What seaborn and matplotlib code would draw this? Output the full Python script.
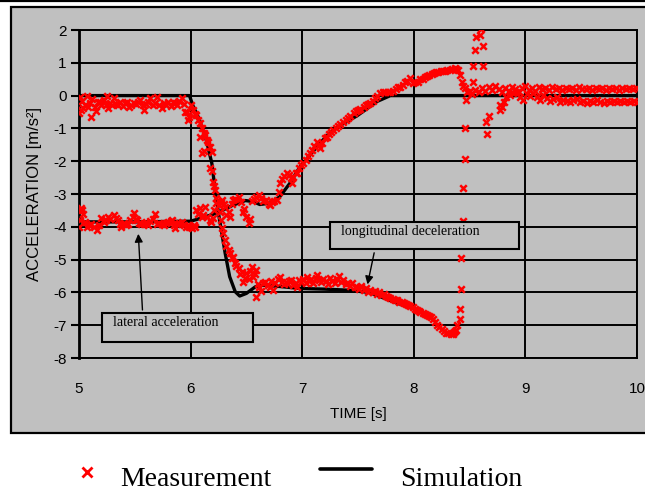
import pandas as pd
import matplotlib
matplotlib.use('Agg')
import matplotlib.pyplot as plt
import seaborn as sns
from matplotlib.patches import Rectangle
from matplotlib.lines import Line2D

# measured longitudinal acceleration (time [s], acc [m/s2])
lon_time = [5.00, 5.01, 5.02, 5.03, 5.04, 5.05, 5.07, 5.08, 5.10, 5.11, 5.12, 5.14, 5.15, 5.17, 5.19,
            5.20, 5.22, 5.24, 5.25, 5.26, 5.28, 5.30, 5.31, 5.33, 5.35, 5.37, 5.39, 5.41, 5.43, 5.45,
            5.47, 5.49, 5.51, 5.53, 5.55, 5.57, 5.58, 5.60, 5.62, 5.64, 5.66, 5.68, 5.70, 5.72, 5.74,
            5.76, 5.78, 5.80, 5.82, 5.84, 5.86, 5.88, 5.90, 5.92, 5.94, 5.95, 5.97, 5.98, 5.99, 6.00,
            6.02, 6.04, 6.05, 6.07, 6.08, 6.10, 6.08, 6.12, 6.13, 6.15, 6.16, 6.17, 6.10, 6.12, 6.19,
            6.17, 6.19, 6.20, 6.21, 6.22, 6.23, 6.25, 6.26, 6.27, 6.28, 6.29, 6.31, 6.32, 6.34, 6.35,
            6.37, 6.38, 6.40, 6.41, 6.43, 6.44, 6.46, 6.47, 6.49, 6.50, 6.52, 6.53, 6.55, 6.56, 6.58,
            6.59, 6.60, 6.61, 6.59, 6.63, 6.65, 6.67, 6.69, 6.71, 6.72, 6.74, 6.76, 6.78, 6.80, 6.82,
            6.84, 6.86, 6.88, 6.90, 6.92, 6.94, 6.95, 6.97, 6.99, 7.01, 7.03, 7.04, 7.06, 7.08, 7.10,
            7.12, 7.13, 7.15, 7.17, 7.19, 7.21, 7.23, 7.25, 7.27, 7.29, 7.31, 7.33, 7.35, 7.37, 7.39,
            7.41, 7.43, 7.45, 7.47, 7.49, 7.51, 7.53, 7.55, 7.57, 7.59, 7.61, 7.63, 7.65, 7.67, 7.69,
            7.71, 7.73, 7.75, 7.77, 7.79, 7.81, 7.83, 7.85, 7.87, 7.89, 7.91, 7.93, 7.95, 7.97, 7.99,
            8.01, 8.03, 8.05, 8.06, 8.08, 8.10, 8.12, 8.14, 8.15, 8.17, 8.19, 8.21, 8.23, 8.25, 8.27,
            8.29, 8.31, 8.33, 8.35, 8.36, 8.37, 8.38, 8.39, 8.41, 8.41, 8.42, 8.42, 8.44, 8.44, 8.46,
            8.46, 8.47, 8.53, 8.53, 8.55, 8.56, 8.59, 8.60, 8.62, 8.62, 8.65, 8.66, 8.67, 8.77, 8.77,
            8.79, 8.81, 8.83, 8.86, 8.89, 8.92, 8.95, 8.98, 9.01, 9.04, 9.07, 9.10, 9.13, 9.16, 9.19,
            9.22, 9.25, 9.28, 9.31, 9.34, 9.37, 9.40, 9.43, 9.46, 9.49, 9.52, 9.55, 9.58, 9.61, 9.64,
            9.67, 9.70, 9.73, 9.76, 9.79, 9.82, 9.85, 9.88, 9.91, 9.94, 9.97, 10.00]
lon_acc = [-0.54, -0.03, -0.45, -0.15, -0.39, -0.28, 0.00, -0.35, -0.24, -0.64, -0.10, -0.34, -0.48, -0.20, -0.19,
           -0.30, -0.12, -0.28, 0.00, -0.39, -0.22, -0.30, -0.08, -0.25, -0.29, -0.18, -0.33, -0.24, -0.20, -0.35,
           -0.29, -0.22, -0.27, -0.20, -0.13, -0.30, -0.44, -0.25, -0.18, -0.08, -0.28, -0.22, -0.03, -0.30, -0.39,
           -0.22, -0.28, -0.19, -0.32, -0.18, -0.24, -0.30, -0.15, -0.08, -0.25, -0.49, -0.49, -0.74, -0.65, -0.30,
           -0.44, -0.55, -0.59, -0.75, -0.85, -1.00, -1.25, -1.15, -1.20, -1.35, -1.40, -1.56, -1.76, -1.70, -1.71,
           -2.22, -2.30, -2.62, -2.75, -2.88, -3.13, -3.34, -3.55, -3.80, -4.05, -4.20, -4.40, -4.60, -4.72, -4.81,
           -4.95, -4.91, -5.11, -5.20, -5.27, -5.45, -5.37, -5.67, -5.55, -5.42, -5.60, -5.35, -5.22, -5.52, -5.45,
           -5.32, -5.75, -5.83, -6.13, -5.95, -5.70, -5.67, -5.78, -5.83, -5.65, -5.93, -5.72, -5.60, -5.52, -5.68,
           -5.75, -5.72, -5.65, -5.62, -5.77, -5.70, -5.83, -5.62, -5.68, -5.60, -5.72, -5.52, -5.65, -5.58, -5.70,
           -5.55, -5.47, -5.62, -5.68, -5.58, -5.65, -5.75, -5.57, -5.65, -5.72, -5.60, -5.50, -5.68, -5.62, -5.75,
           -5.70, -5.80, -5.72, -5.85, -5.83, -5.90, -5.82, -5.92, -5.88, -5.98, -5.93, -6.00, -5.95, -6.05, -6.00,
           -6.08, -6.05, -6.12, -6.15, -6.18, -6.20, -6.22, -6.23, -6.28, -6.30, -6.33, -6.36, -6.38, -6.40, -6.45,
           -6.50, -6.53, -6.57, -6.60, -6.63, -6.66, -6.70, -6.72, -6.75, -6.82, -6.90, -6.98, -7.05, -7.12, -7.18,
           -7.23, -7.25, -7.27, -7.27, -7.22, -7.18, -7.15, -6.99, -6.82, -6.52, -5.91, -4.94, -3.82, -2.81, -1.94,
           -0.98, -0.13, 0.42, 0.91, 1.39, 1.78, 1.85, 2.02, 1.52, 0.91, -0.80, -1.18, -0.61, -0.30, -0.44,
           -0.35, -0.19, -0.05, 0.02, 0.08, 0.10, -0.05, -0.13, 0.05, -0.02, 0.08, -0.05, -0.12, 0.02, -0.08,
           -0.15, -0.10, -0.05, -0.18, -0.12, -0.15, -0.20, -0.14, -0.10, -0.18, -0.15, -0.22, -0.16, -0.20, -0.13,
           -0.18, -0.22, -0.16, -0.19, -0.15, -0.21, -0.17, -0.20, -0.16, -0.19, -0.15, -0.18]

# measured lateral acceleration
lat_time = [5.00, 5.01, 5.02, 5.03, 5.04, 5.05, 5.07, 5.09, 5.11, 5.13, 5.16, 5.18, 5.20, 5.22, 5.24,
            5.26, 5.28, 5.31, 5.33, 5.35, 5.37, 5.38, 5.40, 5.42, 5.44, 5.46, 5.48, 5.49, 5.51, 5.52,
            5.54, 5.56, 5.58, 5.60, 5.62, 5.64, 5.66, 5.68, 5.70, 5.72, 5.74, 5.76, 5.78, 5.80, 5.82,
            5.83, 5.85, 5.86, 5.88, 5.90, 5.92, 5.94, 5.96, 5.98, 5.99, 6.01, 6.03, 6.04, 6.05, 6.07,
            6.08, 6.10, 6.11, 6.13, 6.15, 6.17, 6.18, 6.20, 6.21, 6.23, 6.25, 6.27, 6.28, 6.30, 6.31,
            6.32, 6.34, 6.35, 6.37, 6.38, 6.40, 6.43, 6.45, 6.47, 6.48, 6.50, 6.52, 6.53, 6.55, 6.57,
            6.59, 6.61, 6.63, 6.65, 6.68, 6.70, 6.71, 6.73, 6.75, 6.77, 6.79, 6.80, 6.82, 6.84, 6.86,
            6.88, 6.90, 6.91, 6.92, 6.94, 6.95, 6.97, 6.99, 7.01, 7.03, 7.05, 7.07, 7.09, 7.11, 7.13,
            7.15, 7.16, 7.18, 7.20, 7.22, 7.24, 7.26, 7.28, 7.30, 7.32, 7.34, 7.37, 7.39, 7.41, 7.43,
            7.46, 7.48, 7.50, 7.52, 7.55, 7.57, 7.59, 7.61, 7.63, 7.65, 7.67, 7.70, 7.72, 7.74, 7.77,
            7.79, 7.81, 7.84, 7.86, 7.88, 7.90, 7.92, 7.94, 7.97, 7.99, 8.01, 8.04, 8.06, 8.08, 8.10,
            8.12, 8.14, 8.16, 8.18, 8.20, 8.22, 8.24, 8.26, 8.28, 8.30, 8.32, 8.34, 8.37, 8.38, 8.40,
            8.41, 8.43, 8.44, 8.46, 8.48, 8.50, 8.52, 8.55, 8.58, 8.61, 8.64, 8.67, 8.70, 8.73, 8.76,
            8.79, 8.82, 8.85, 8.88, 8.91, 8.94, 8.97, 9.00, 9.03, 9.06, 9.09, 9.12, 9.15, 9.18, 9.21,
            9.24, 9.27, 9.30, 9.33, 9.36, 9.39, 9.42, 9.45, 9.48, 9.51, 9.54, 9.57, 9.60, 9.63, 9.66,
            9.69, 9.72, 9.75, 9.78, 9.81, 9.84, 9.87, 9.90, 9.93, 9.96, 9.99]
lat_acc = [-4.00, -3.79, -3.44, -3.50, -3.60, -3.85, -4.00, -3.95, -3.90, -4.02, -4.10, -3.95, -3.74, -3.85, -3.80,
           -3.69, -3.75, -3.64, -3.72, -3.80, -3.92, -4.00, -3.88, -3.95, -3.90, -3.80, -3.70, -3.59, -3.75, -3.79,
           -3.88, -3.92, -3.90, -3.85, -3.95, -3.82, -3.75, -3.62, -3.90, -3.88, -3.92, -3.95, -3.88, -3.85, -3.82,
           -3.79, -3.95, -4.05, -3.92, -3.89, -3.84, -3.95, -4.02, -3.95, -4.00, -4.05, -3.95, -4.00, -3.49, -3.60,
           -3.44, -3.70, -3.64, -3.39, -3.70, -3.79, -3.85, -3.74, -3.50, -3.28, -3.35, -3.25, -3.18, -3.30, -3.39,
           -3.64, -3.55, -3.69, -3.30, -3.18, -3.15, -3.08, -3.25, -3.54, -3.45, -3.69, -3.89, -3.75, -3.20, -3.15,
           -3.10, -3.03, -3.12, -3.22, -3.18, -3.30, -3.34, -3.25, -3.20, -3.18, -2.95, -2.67, -2.55, -2.45, -2.37,
           -2.42, -2.50, -2.67, -2.47, -2.35, -2.37, -2.22, -2.12, -2.06, -1.95, -1.85, -1.75, -1.65, -1.55, -1.40,
           -1.50, -1.61, -1.45, -1.30, -1.25, -1.18, -1.10, -1.05, -0.98, -0.92, -0.88, -0.80, -0.75, -0.68, -0.62,
           -0.54, -0.48, -0.45, -0.40, -0.34, -0.30, -0.26, -0.24, -0.15, -0.08, 0.00, 0.07, 0.10, 0.12, 0.10,
           0.12, 0.15, 0.20, 0.25, 0.27, 0.33, 0.40, 0.46, 0.53, 0.37, 0.40, 0.42, 0.50, 0.52, 0.56,
           0.60, 0.63, 0.66, 0.70, 0.71, 0.73, 0.74, 0.75, 0.76, 0.78, 0.79, 0.80, 0.85, 0.82, 0.78,
           0.62, 0.42, 0.30, 0.22, 0.10, 0.15, 0.05, 0.18, 0.12, 0.22, 0.15, 0.25, 0.18, 0.30, 0.20,
           0.10, 0.22, 0.15, 0.25, 0.20, 0.12, 0.22, 0.28, 0.18, 0.22, 0.15, 0.25, 0.20, 0.23, 0.18,
           0.26, 0.20, 0.22, 0.17, 0.24, 0.20, 0.22, 0.18, 0.25, 0.21, 0.19, 0.23, 0.18, 0.24, 0.20,
           0.22, 0.17, 0.23, 0.20, 0.24, 0.18, 0.22, 0.20, 0.24, 0.19, 0.22]

# simulation curves
sim_lon_time = [5.00, 5.99, 6.02, 6.08, 6.14, 6.19, 6.22, 6.25, 6.28, 6.31, 6.35, 6.40, 6.44, 6.50,
                6.58, 6.65, 6.80, 6.98, 7.20, 7.40, 7.60, 7.85, 8.00]
sim_lon_acc = [0.00, 0.00, -0.30, -0.74, -1.35, -2.06, -2.88, -3.59, -4.20, -4.81, -5.52, -5.98, -6.11, -6.03,
               -5.83, -5.78, -5.82, -5.88, -5.90, -5.93, -6.00, -6.33, -6.50]
sim_lat_time = [5.00, 5.50, 6.00, 6.08, 6.20, 6.29, 6.38, 6.49, 6.56, 6.62, 6.71, 6.80, 6.89, 6.98,
                7.07, 7.16, 7.25, 7.37, 7.49, 7.58, 7.67, 7.79, 8.00, 10.00]
sim_lat_acc = [-3.85, -3.85, -3.83, -3.75, -3.62, -3.49, -3.34, -3.20, -3.23, -3.32, -3.28, -3.08, -2.67, -2.17,
               -1.81, -1.45, -1.12, -0.85, -0.62, -0.40, -0.18, 0.00, 0.00, 0.00]

meas = pd.DataFrame({'time': lon_time + lat_time, 'acc': lon_acc + lat_acc,
                     'series': ['lon'] * len(lon_time) + ['lat'] * len(lat_time)})
sim = pd.DataFrame({'time': sim_lon_time + sim_lat_time, 'acc': sim_lon_acc + sim_lat_acc,
                    'series': ['lon'] * len(sim_lon_time) + ['lat'] * len(sim_lat_time)})

gray = '#c0c0c0'
sns.set_theme(style='whitegrid', rc={'axes.facecolor': gray, 'grid.color': 'black',
                                     'grid.linewidth': 1.4, 'axes.edgecolor': 'black',
                                     'text.color': 'black', 'axes.labelcolor': 'black',
                                     'xtick.color': 'black', 'ytick.color': 'black'})
plt.rcParams['font.family'] = ['Liberation Sans', 'DejaVu Sans']
plt.rcParams['axes.unicode_minus'] = False
serif = ['Liberation Serif', 'DejaVu Serif']

fig = plt.figure(figsize=(6.45, 4.91), dpi=100)
W, H = 645, 491
# grey chart frame + top rule
fig.patches.append(Rectangle((11 / W, 1 - 433 / H), 640 / W, 426 / H, transform=fig.transFigure,
                             facecolor=gray, edgecolor='black', lw=1.6, zorder=-10))
fig.add_artist(Line2D([0, 1], [1 - 1 / H] * 2, color='black', lw=1.6))

ax = fig.add_axes([79 / W, 1 - 358 / H, 558 / W, 328 / H])

sns.lineplot(data=sim, x='time', y='acc', units='series', estimator=None, sort=False,
             color='black', lw=2.4, ax=ax, zorder=2)
sns.scatterplot(data=meas, x='time', y='acc', marker='x', color='#ff0000', s=22,
                linewidth=1.8, ax=ax, zorder=3, legend=False)

ax.set_xlim(5, 10)
ax.set_ylim(-8, 2)
ax.set_xticks(range(5, 11))
ax.set_yticks(range(-8, 3))
for s in ax.spines.values():
    s.set_color('black')
    s.set_linewidth(1.4)
ax.spines['left'].set_linewidth(2)
ax.tick_params(axis='y', left=True, length=6, width=1.5, color='black', pad=3, labelsize=11)
ax.tick_params(axis='x', length=0, pad=17, labelsize=11)
ax.set_xlabel('TIME [s]', fontsize=11, labelpad=8)
ax.set_ylabel('ACCELERATION [m/s²]', fontsize=12, labelpad=8)

# annotation boxes
ax.add_patch(Rectangle((7.25, -4.68), 1.69, 0.83, facecolor=gray, edgecolor='black', lw=1.5, zorder=5))
ax.text(7.35, -4.15, 'longitudinal deceleration', family=serif, fontsize=10, va='center', zorder=6)
ax.annotate('', xy=(7.58, -5.84), xytext=(7.65, -4.71),
            arrowprops=dict(arrowstyle='-|>', color='black', lw=1, mutation_scale=12), zorder=6)

ax.add_patch(Rectangle((5.206, -7.51), 1.353, 0.88, facecolor=gray, edgecolor='black', lw=1.5, zorder=5))
ax.text(5.305, -6.93, 'lateral acceleration', family=serif, fontsize=10, va='center', zorder=6)
ax.annotate('', xy=(5.53, -4.13), xytext=(5.57, -6.62),
            arrowprops=dict(arrowstyle='-|>', color='black', lw=1, mutation_scale=12), zorder=6)

# legend below the frame
fig.add_artist(Line2D([87 / W], [1 - 472 / H], marker='x', color='#ff0000', markersize=7, mew=2, lw=0))
fig.text(120 / W, 1 - 486 / H, 'Measurement', family=serif, fontsize=20, va='baseline')
fig.add_artist(Line2D([320 / W, 372 / W], [1 - 469 / H] * 2, color='black', lw=2.6))
fig.text(400 / W, 1 - 486 / H, 'Simulation', family=serif, fontsize=20, va='baseline')

fig.savefig('out.png', dpi=100)
